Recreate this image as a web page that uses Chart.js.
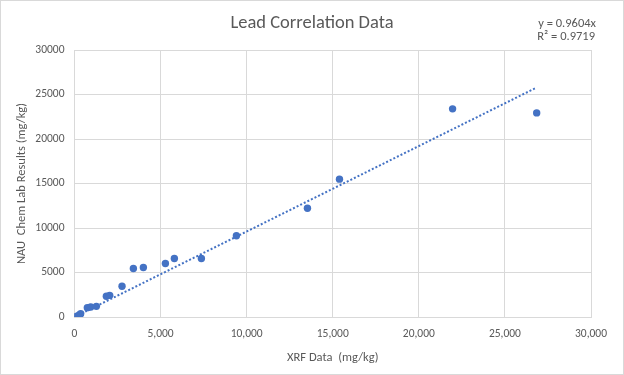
<!DOCTYPE html>
<html>
<head>
<meta charset="utf-8">
<script src="https://cdn.jsdelivr.net/npm/chart.js@4.4.0/dist/chart.umd.min.js"></script>
<style>
  html, body { margin: 0; padding: 0; background: #fff; }
  #wrap { width: 624px; height: 375px; position: relative; }
</style>
</head>
<body>
<div id="wrap"><canvas id="chart" width="624" height="375"></canvas></div>
<script>
'use strict';

// XRF readings vs NAU chem lab results (mg/kg)
const xrfData = [30, 105, 180, 300, 360, 745, 940, 1270, 1850, 2045, 2760, 3420, 4000, 5280, 5800, 7370, 9405, 13530, 15390, 21960, 26845];
const labData = [20, 70, 120, 260, 370, 1050, 1120, 1195, 2325, 2435, 3450, 5450, 5560, 6010, 6575, 6575, 9125, 12215, 15490, 23385, 22930];

// linear trendline ends (y = 0.9604x), as drawn in the picture
const trendX = [0, 26800];
const trendY = [0, 25740];

const titleText = 'Lead Correlation Data';
const eqLines = ['y = 0.9604x', 'R\u00b2 = 0.9719'];

const fontFam = 'Carlito, Lato, sans-serif';
const txtColor = '#595959';
const blue = '#4472C4';
const gridColor = '#d9d9d9';

let canvasElem = document.getElementById('chart');

let points = [];
for (let i = 0; i < xrfData.length; i++) {
  points.push({ x: xrfData[i], y: labData[i] });
}
let trendPts = [];
for (let i = 0; i < trendX.length; i++) {
  trendPts.push({ x: trendX[i], y: trendY[i] });
}

// title, equation box and outer border
const extras = {
  id: 'extras',
  afterDraw(chart) {
    const ctx = chart.ctx;
    ctx.save();
    ctx.strokeStyle = gridColor;
    ctx.lineWidth = 1;
    ctx.strokeRect(0.5, 0.5, 623, 374);

    ctx.fillStyle = txtColor;
    ctx.textBaseline = 'middle';
    ctx.textAlign = 'center';
    ctx.font = '18.5px ' + fontFam;
    ctx.fillText(titleText, 312, 23);

    ctx.textAlign = 'right';
    ctx.font = '12.5px ' + fontFam;
    ctx.fillText(eqLines[0], 596, 24);
    ctx.fillText(eqLines[1], 595, 37);
    ctx.restore();
  }
};

let chartObj = {
  type: 'scatter',
  data: {
    datasets: [
      {
        label: 'Lead',
        data: points,
        backgroundColor: blue,
        borderColor: blue,
        pointRadius: 3.7,
        pointHoverRadius: 3.7,
        borderWidth: 0,
        order: 1
      },
      {
        label: 'Linear trend',
        type: 'line',
        data: trendPts,
        borderColor: blue,
        borderWidth: 2,
        borderDash: [2, 2],
        pointRadius: 0,
        fill: false,
        order: 2
      }
    ]
  },
  options: {
    responsive: false,
    animation: false,
    layout: { padding: { top: 50, right: 33, left: 0, bottom: 0 } },
    plugins: {
      legend: { display: false },
      title: { display: false },
      tooltip: { enabled: false }
    },
    scales: {
      x: {
        type: 'linear',
        min: 0,
        max: 30000,
        afterFit: function (scale) { scale.height = 58; },
        ticks: {
          stepSize: 5000,
          color: txtColor,
          font: { family: fontFam, size: 11.5 },
          padding: 10,
          callback: function (v) { return v.toLocaleString('en-US'); }
        },
        grid: { color: gridColor, drawTicks: false },
        border: { color: gridColor },
        title: {
          display: true,
          text: 'XRF Data  (mg/kg)',
          color: txtColor,
          font: { family: fontFam, size: 12.5 },
          padding: { top: 0, bottom: 10 }
        }
      },
      y: {
        type: 'linear',
        min: 0,
        max: 30000,
        afterFit: function (scale) { scale.width = 74.5; },
        ticks: {
          stepSize: 5000,
          color: txtColor,
          font: { family: fontFam, size: 11.5 },
          padding: 10,
          callback: function (v) { return String(v); }
        },
        grid: { color: gridColor, drawTicks: false },
        border: { color: gridColor },
        title: {
          display: true,
          text: 'NAU  Chem Lab Results (mg/kg)',
          color: txtColor,
          font: { family: fontFam, size: 12.5 },
          padding: { top: 14, bottom: 0 }
        }
      }
    }
  },
  plugins: [extras]
};

new Chart(canvasElem, chartObj);
</script>
</body>
</html>
